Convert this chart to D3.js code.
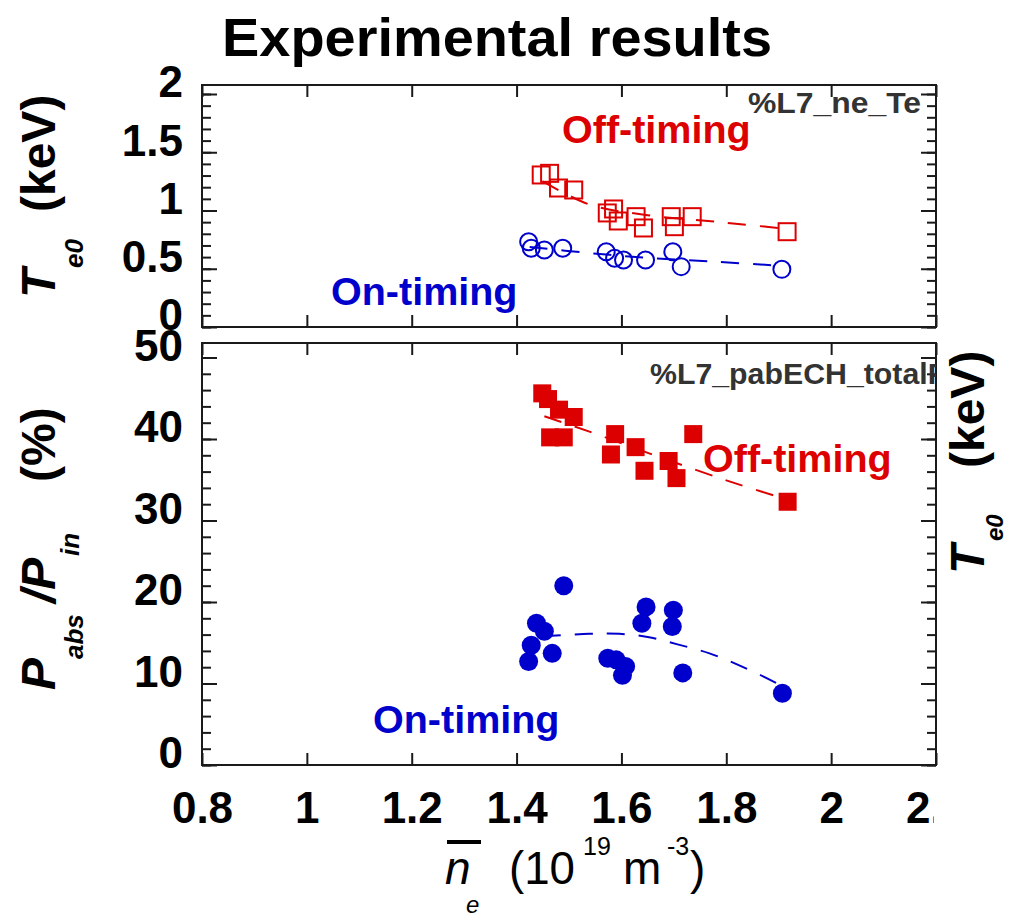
<!DOCTYPE html>
<html><head><meta charset="utf-8">
<script src="https://cdn.jsdelivr.net/npm/d3@7"></script>
<style>body{margin:0;background:#fff}svg{display:block}</style>
</head><body>
<svg id="chart" width="1010" height="919"></svg>
<script>
// ---------- data ----------
const xTicks = [0.8, 1, 1.2, 1.4, 1.6, 1.8, 2, 2.2];
const teTicks = [0, 0.5, 1, 1.5, 2];
const pTicks = [0, 10, 20, 30, 40, 50];

// Top panel: central electron temperature Te0 (keV)
const teOffX = [1.447, 1.463, 1.480, 1.509, 1.573, 1.585, 1.594, 1.628, 1.642, 1.695, 1.701, 1.735, 1.916];
const teOffY = [1.305, 1.319, 1.193, 1.176, 0.979, 1.013, 0.910, 0.947, 0.850, 0.947, 0.861, 0.947, 0.818];
const teOnX  = [1.423, 1.428, 1.453, 1.488, 1.571, 1.587, 1.604, 1.646, 1.698, 1.714, 1.906];
const teOnY  = [0.732, 0.676, 0.661, 0.676, 0.646, 0.590, 0.575, 0.575, 0.646, 0.518, 0.495];
const teOffFitX = [1.45, 1.54, 1.65, 1.80, 1.92];
const teOffFitY = [1.25, 1.05, 0.96, 0.895, 0.84];
const teOnFitX  = [1.425, 1.539, 1.653, 1.787, 1.91];
const teOnFitY  = [0.687, 0.635, 0.592, 0.558, 0.524];

// Bottom panel: absorbed power fraction Pabs/Pin (%)
const pOffX = [1.449, 1.460, 1.481, 1.509, 1.464, 1.490, 1.588, 1.580, 1.627, 1.644, 1.690, 1.705, 1.737, 1.917];
const pOffY = [45.6, 44.9, 43.6, 42.7, 40.2, 40.2, 40.6, 38.1, 39.0, 36.1, 37.3, 35.2, 40.6, 32.3];
const pOnX  = [1.490, 1.438, 1.453, 1.428, 1.468, 1.423, 1.647, 1.639, 1.699, 1.697, 1.574, 1.590, 1.608, 1.602, 1.717, 1.907];
const pOnY  = [22.0, 17.4, 16.4, 14.7, 13.7, 12.7, 19.4, 17.4, 19.0, 17.0, 13.1, 12.9, 12.1, 11.0, 11.3, 8.8];
const pOffFitX = [1.453, 1.539, 1.672, 1.806, 1.92];
const pOffFitY = [42.8, 40.9, 37.8, 34.8, 32.5];
const pOnFitX  = [1.45, 1.539, 1.596, 1.650, 1.707, 1.768, 1.829, 1.891, 1.91];
const pOnFitY  = [15.8, 16.1, 16.1, 15.7, 14.8, 13.7, 12.1, 10.2, 9.5];

// ---------- layout ----------
const RED = "#dd0000", BLUE = "#0000cc", INK = "#1a1a1a";
const FONT = "'Liberation Sans', Arial, Helvetica, sans-serif";
const L = 202, R = 936;
const top1 = 85, bot1 = 327, top2 = 343, bot2 = 765;

const svg = d3.select("#chart");
const x = d3.scaleLinear().domain([0.8, 2.2]).range([L, R]);
const yTe = d3.scaleLinear().domain([0, 2]).range([bot1, 94]);
const yP = d3.scaleLinear().domain([0, 50]).range([bot2, 357.5]);

const defs = svg.append("defs");
defs.append("clipPath").attr("id", "clip1").append("rect")
  .attr("x", L).attr("y", top1).attr("width", R - L).attr("height", bot1 - top1);
defs.append("clipPath").attr("id", "clip2").append("rect")
  .attr("x", L).attr("y", top2).attr("width", R - L).attr("height", bot2 - top2);
defs.append("clipPath").attr("id", "clipX").append("rect")
  .attr("x", 0).attr("y", 0).attr("width", R - 2).attr("height", 919);

// title
svg.append("text").attr("x", 222).attr("y", 56)
  .attr("textLength", 550).attr("lengthAdjust", "spacingAndGlyphs")
  .style("font-family", FONT).style("font-weight", "bold").style("font-size", "53px")
  .attr("fill", "#000").text("Experimental results");

function minorOf(domain, step) {
  const out = [];
  for (let v = domain[0]; v <= domain[1] + 1e-9; v += step) out.push(+v.toFixed(6));
  return out;
}

function styleAxis(g) {
  g.select(".domain").remove();
  g.selectAll("line").attr("stroke", INK).attr("stroke-width", 2);
}

function panel(y, top, bot, ticks, minorStep, clipId) {
  const g = svg.append("g");
  const minor = minorOf(y.domain(), minorStep);
  g.append("g").attr("transform", `translate(${L},0)`)
    .call(d3.axisLeft(y).tickValues(minor).tickSize(-9).tickFormat("")).call(styleAxis);
  g.append("g").attr("transform", `translate(${R},0)`)
    .call(d3.axisRight(y).tickValues(minor).tickSize(-9).tickFormat("")).call(styleAxis);
  const la = g.append("g").attr("transform", `translate(${L},0)`)
    .call(d3.axisLeft(y).tickValues(ticks).tickSize(-15).tickPadding(19).tickFormat(d3.format("")))
    .call(styleAxis);
  la.selectAll("text").attr("fill", "#000").attr("dy", "0.36em")
    .attr("transform", "translate(0,-13)")
    .style("font-family", FONT).style("font-weight", "bold").style("font-size", "44px");
  g.append("g").attr("transform", `translate(${R},0)`)
    .call(d3.axisRight(y).tickValues(ticks).tickSize(-15).tickFormat("")).call(styleAxis);
  g.append("g").attr("transform", `translate(0,${top})`)
    .call(d3.axisTop(x).tickValues(xTicks).tickSize(-12).tickFormat("")).call(styleAxis);
  g.append("g").attr("transform", `translate(0,${bot})`)
    .call(d3.axisBottom(x).tickValues(xTicks).tickSize(-12).tickFormat("")).call(styleAxis);
  g.append("rect").attr("x", L).attr("y", top).attr("width", R - L).attr("height", bot - top)
    .attr("fill", "none").attr("stroke", INK).attr("stroke-width", 2);
  return svg.append("g").attr("clip-path", `url(#${clipId})`);
}

const p1 = panel(yTe, top1, bot1, teTicks, 0.1, "clip1");
const p2 = panel(yP, top2, bot2, pTicks, 2, "clip2");

// x tick labels (bottom panel)
const xa = svg.append("g").attr("transform", `translate(0,${bot2})`).attr("clip-path", "url(#clipX)")
  .call(d3.axisBottom(x).tickValues(xTicks).tickSize(0).tickPadding(27).tickFormat(d3.format("")));
xa.select(".domain").remove();
xa.selectAll("text").attr("fill", "#000")
  .style("font-family", FONT).style("font-weight", "bold").style("font-size", "44px");

// ---------- marks ----------
const zip = (a, b) => a.map((v, i) => [v, b[i]]);
function fitLine(g, xs, ys, y, color) {
  g.append("path").datum(zip(xs, ys))
    .attr("d", d3.line().x(d => x(d[0])).y(d => y(d[1])).curve(d3.curveCatmullRom))
    .attr("fill", "none").attr("stroke", color).attr("stroke-width", 2)
    .attr("stroke-dasharray", "18,14");
}

fitLine(p1, teOffFitX, teOffFitY, yTe, RED);
fitLine(p1, teOnFitX, teOnFitY, yTe, BLUE);
p1.selectAll("rect.off").data(zip(teOffX, teOffY)).join("rect").attr("class", "off")
  .attr("x", d => x(d[0]) - 8.5).attr("y", d => yTe(d[1]) - 8.5)
  .attr("width", 17).attr("height", 17)
  .attr("fill", "none").attr("stroke", RED).attr("stroke-width", 2);
p1.selectAll("circle.on").data(zip(teOnX, teOnY)).join("circle").attr("class", "on")
  .attr("cx", d => x(d[0])).attr("cy", d => yTe(d[1])).attr("r", 8.5)
  .attr("fill", "none").attr("stroke", BLUE).attr("stroke-width", 2);

fitLine(p2, pOffFitX, pOffFitY, yP, RED);
fitLine(p2, pOnFitX, pOnFitY, yP, BLUE);
p2.selectAll("rect.off").data(zip(pOffX, pOffY)).join("rect").attr("class", "off")
  .attr("x", d => x(d[0]) - 9).attr("y", d => yP(d[1]) - 9)
  .attr("width", 18).attr("height", 18).attr("fill", RED);
p2.selectAll("circle.on").data(zip(pOnX, pOnY)).join("circle").attr("class", "on")
  .attr("cx", d => x(d[0])).attr("cy", d => yP(d[1])).attr("r", 9.5).attr("fill", BLUE);

// in-panel texts
function label(g, tx, ty, txt, color, size, sx) {
  g.append("text").attr("transform", `translate(${tx},${ty}) scale(${sx || 1},1)`)
    .text(txt).attr("fill", color)
    .style("font-family", FONT).style("font-weight", "bold").style("font-size", size + "px");
}
label(p1, 748, 113, "%L7_ne_Te", "#333", 29, 1.1);
label(p2, 650, 384, "%L7_pabECH_totalP", "#333", 29, 1.045);
label(svg, 562, 143, "Off-timing", RED, 39.5);
label(svg, 331, 305, "On-timing", BLUE, 39.5);
label(svg, 703, 472, "Off-timing", RED, 39.5);
label(svg, 373, 733, "On-timing", BLUE, 39.5);

// ---------- axis titles ----------
function rotTitle(px, py, parts, size) {
  const t = svg.append("text").attr("transform", `translate(${px},${py}) rotate(-90)`)
    .style("font-family", FONT).style("font-weight", "bold").style("font-size", size + "px").attr("fill", "#000");
  parts.forEach(p => {
    const s = t.append("tspan").attr("x", p.x).attr("y", p.sub || 0).text(p.t);
    if (p.italic) s.style("font-style", "italic");
    if (p.size) s.style("font-size", p.size + "px");
  });
}
rotTitle(55, 298, [
  { t: "T", x: 0, italic: true },
  { t: "e0", x: 30, italic: true, size: 26, sub: 28 },
  { t: "(keV)", x: 86 }
], 48);
rotTitle(55, 690, [
  { t: "P", x: 0, italic: true },
  { t: "abs", x: 31, italic: true, size: 26, sub: 28 },
  { t: "/P", x: 87, italic: true },
  { t: "in", x: 134, italic: true, size: 26, sub: 24 },
  { t: "(%)", x: 208 }
], 48);
rotTitle(984, 574, [
  { t: "T", x: 0, italic: true },
  { t: "e0", x: 33, italic: true, size: 24, sub: 19 },
  { t: "(keV)", x: 106 }
], 48);

// x-axis title
const xt = svg.append("text")
  .style("font-family", FONT).style("font-size", "46px").attr("fill", "#000");
xt.append("tspan").attr("x", 445).attr("y", 884).style("font-style", "italic").text("n");
xt.append("tspan").attr("x", 466).attr("y", 913).style("font-size", "24px").style("font-style", "italic").text("e");
xt.append("tspan").attr("x", 509).attr("y", 884).attr("textLength", 66).attr("lengthAdjust", "spacingAndGlyphs").text("(10");
xt.append("tspan").attr("x", 583).attr("y", 855).style("font-size", "25px").text("19");
xt.append("tspan").attr("x", 623).attr("y", 884).text("m");
xt.append("tspan").attr("x", 667).attr("y", 855).style("font-size", "25px").text("-3");
xt.append("tspan").attr("x", 690).attr("y", 884).text(")");
svg.append("line").attr("x1", 447).attr("x2", 481).attr("y1", 842).attr("y2", 842)
  .attr("stroke", "#000").attr("stroke-width", 4);
</script>
</body></html>
